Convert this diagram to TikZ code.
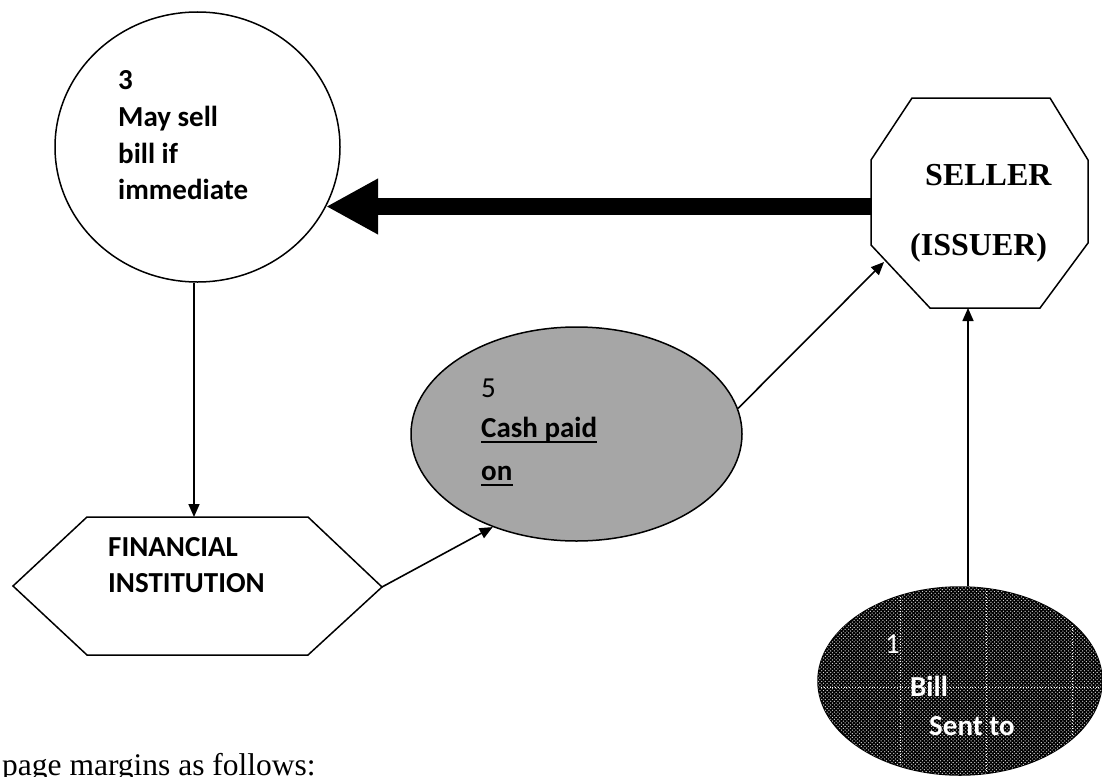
\documentclass[tikz,border=0pt]{standalone}
\usepackage{fontspec}
\setmainfont{Carlito}
\newfontfamily\timesf{Liberation Serif}
\usetikzlibrary{shapes.geometric,arrows.meta,patterns}
\pgfdeclarepatternformonly{mydots}{\pgfqpoint{-1pt}{-1pt}}{\pgfqpoint{5pt}{5pt}}{\pgfqpoint{3.6pt}{3.6pt}}{%
  \pgfpathcircle{\pgfqpoint{0.9pt}{0.9pt}}{0.65pt}%
  \pgfpathcircle{\pgfqpoint{2.7pt}{2.7pt}}{0.65pt}%
  \pgfusepath{fill}}
\begin{document}
\begin{tikzpicture}[x=1pt,y=-1pt,
  shapeline/.style={draw=black,line width=1.5pt},
  lbl/.style={anchor=base west,inner sep=0pt,font=\fontsize{29}{35}\selectfont\bfseries},
  lblr/.style={anchor=base west,inner sep=0pt,font=\fontsize{29}{35}\selectfont},
  tlbl/.style={anchor=base west,inner sep=0pt,font=\timesf\fontsize{32}{38}\selectfont\bfseries},
  conn/.style={line width=1.6pt,-{Triangle[length=13pt,width=11pt]}},
  bigarrow/.style={line width=17pt,-{Triangle[length=52pt,width=52pt]}},
  uline/.style={line width=2.6pt}]
\useasboundingbox (0,0) rectangle (1102,776);

% circle 3
\node[ellipse,shapeline,fill=white,minimum width=285pt,minimum height=270pt,inner sep=0pt] (circ) at (197.5,147) {};
\node[lbl] (t3) at (118,89) {3};
\node[lbl] (tmay) at (118,126) {May sell};
\node[lbl] (tbill) at (118,163) {bill if};
\node[lbl] (timm) at (118,199) {immediate};

% octagon seller
\draw[shapeline,fill=white] (912,98) -- (1050,98) -- (1088,160) -- (1088,243) -- (1040,308) -- (930,308) -- (871,245) -- (871,160) -- cycle;
\coordinate (selW) at (871,206.5);
\coordinate (selSW) at (884,262);
\coordinate (selS) at (968,308);
\node[tlbl] (tsel) at (925,185) {SELLER};
\node[tlbl] (tiss) at (910,255) {(ISSUER)};

% hexagon
\draw[shapeline,fill=white] (87,517) -- (308,517) -- (382,587) -- (308,655) -- (87,655) -- (13,586) -- cycle;
\coordinate (hexN) at (194,517);
\coordinate (hexE) at (382,587);
\node[lbl] (tfin) at (108,556) {FINANCIAL};
\node[lbl] (tinst) at (108,592) {INSTITUTION};

% gray ellipse
\node[ellipse,shapeline,fill={rgb,255:red,166;green,166;blue,166},minimum width=331pt,minimum height=214pt,inner sep=0pt] (gray) at (576.5,434) {};
\node[lblr] (t5) at (481,397) {5};
\node[lbl] (tcash) at (481,437) {Cash paid};
\node[lbl] (ton) at (481,480) {on};
\draw[uline] ([yshift=-5pt]tcash.base west) -- ([yshift=-5pt]tcash.base east);
\draw[uline] ([yshift=-5pt]ton.base west) -- ([yshift=-5pt]ton.base east);

% patterned ellipse
\node[ellipse,shapeline,fill=black,minimum width=284pt,minimum height=188pt,inner sep=0pt,
  postaction={pattern=mydots,pattern color=white!85!black}] (pat) at (960,681) {};
\begin{scope}
  \clip (960,681) ellipse [x radius=141,y radius=93];
  \draw[white,dotted,line width=0.8pt] (900,580) -- (900,780) (986,580) -- (986,780) (1072,580) -- (1072,780) (810,687) -- (1110,687);
\end{scope}
\node[lblr,text=white] (t1) at (885,653) {1};
\node[lbl,text=white] (tbl) at (910,696) {Bill};
\node[lbl,text=white] (tsent) at (929,735) {Sent to};

% connectors
\draw[conn] (hexN |- circ.south) -- (hexN);
\draw[conn] (hexE) -- (gray.228);
\draw[conn] (gray.9) -- (selSW);
\draw[conn] (selS |- pat.north) -- (selS);
\draw[bigarrow] (selW) -- (selW -| circ.-25);

% bottom text
\node[anchor=base west,inner sep=0pt,font=\timesf\fontsize{31.5}{36}\selectfont] (pm) at (2,775) {page margins as follows:};
\end{tikzpicture}
\end{document}
